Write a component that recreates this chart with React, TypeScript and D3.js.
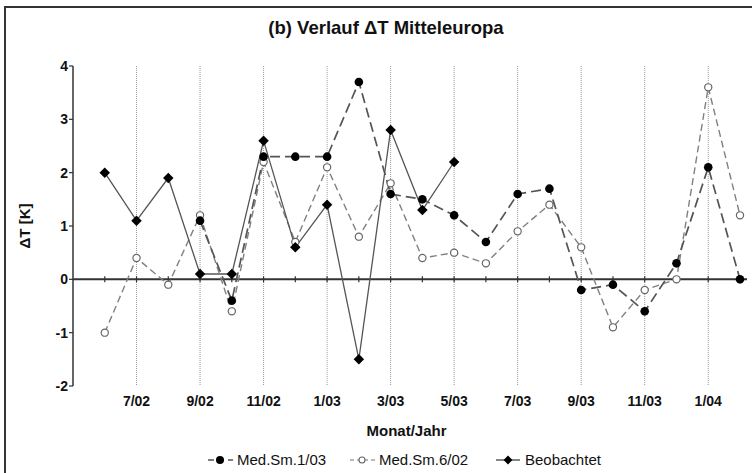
import React from 'react';
import * as d3 from 'd3';

// Monate Juni 2002 bis Februar 2004
const months = ['6/02', '7/02', '8/02', '9/02', '10/02', '11/02', '12/02', '1/03', '2/03', '3/03', '4/03',
    '5/03', '6/03', '7/03', '8/03', '9/03', '10/03', '11/03', '12/03', '1/04', '2/04'];
const labeledMonths = ['7/02', '9/02', '11/02', '1/03', '3/03', '5/03', '7/03', '9/03', '11/03', '1/04'];
const yTicks = [-2, -1, 0, 1, 2, 3, 4];

const medSm103 = [null, null, null, 1.1, -0.4, 2.3, 2.3, 2.3, 3.7, 1.6, 1.5, 1.2, 0.7, 1.6, 1.7, -0.2, -0.1, -0.6, 0.3, 2.1, 0.0];
const medSm602 = [-1.0, 0.4, -0.1, 1.2, -0.6, 2.2, 0.7, 2.1, 0.8, 1.8, 0.4, 0.5, 0.3, 0.9, 1.4, 0.6, -0.9, -0.2, 0.0, 3.6, 1.2];
const beobachtet = [2.0, 1.1, 1.9, 0.1, 0.1, 2.6, 0.6, 1.4, -1.5, 2.8, 1.3, 2.2, null, null, null, null, null, null, null, null, null];

const W = 752;
const H = 473;
const left = 73;
const right = 740;
const top = 66;
const bottom = 386;

const font = '"Liberation Sans", Arial, Helvetica, sans-serif';

type Pt = { i: number; v: number | null };

const App = () => {
    // index 0 = 5/02 (Achsenursprung), Monat i liegt bei i + 1
    const x = d3.scaleLinear().domain([0, months.length]).range([left, right]);
    const y = d3.scaleLinear().domain([-2, 4]).range([bottom, top]);
    const xm = (m: string) => x(months.indexOf(m) + 1);

    const line = d3.line<Pt>()
        .defined((d) => d.v !== null)
        .x((d) => x(d.i + 1))
        .y((d) => y(d.v as number));

    const pts = (arr: (number | null)[]) => arr.map((v, i) => ({ i, v }));

    const diamond = d3.symbol().type(d3.symbolDiamond2).size(70)();

    return (
        <svg width={W} height={H} style={{ position: 'absolute', left: 0, top: 0, background: '#fff' }} fontFamily={font}>
            <rect x={5} y={7} width={W + 20} height={H + 20} fill="#fff" stroke="#333" strokeWidth={2} />

            <text x={386} y={34} textAnchor="middle" fontSize={18.5} fontWeight="bold" fill="#111">(b) Verlauf ΔT Mitteleuropa</text>

            {/* vertikale Gitterlinien */}
            {labeledMonths.map((m) => (
                <line key={m} x1={xm(m)} x2={xm(m)} y1={top} y2={bottom} stroke="#999" strokeWidth={1} strokeDasharray="1,1" />
            ))}

            {/* y-Achse */}
            <line x1={left} x2={left} y1={top} y2={bottom} stroke="#333" strokeWidth={1.5} />
            {yTicks.map((t) => (
                <g key={t}>
                    <line x1={left - 4} x2={left} y1={y(t)} y2={y(t)} stroke="#333" strokeWidth={1.2} />
                    <text x={left - 5} y={y(t) + 5} textAnchor="end" fontSize={14} fontWeight="bold" fill="#111">{t}</text>
                </g>
            ))}
            <text transform={`translate(30,${y(1)}) rotate(-90)`} textAnchor="middle" fontSize={15} fontWeight="bold" fill="#111">ΔT [K]</text>

            {/* Nulllinie mit Monatsstrichen */}
            <line x1={left} x2={747} y1={y(0)} y2={y(0)} stroke="#333" strokeWidth={2} />
            {months.map((m) => (
                <line key={m} x1={xm(m)} x2={xm(m)} y1={y(0) - 3} y2={y(0) + 3} stroke="#333" strokeWidth={1.2} />
            ))}

            {labeledMonths.map((m) => (
                <text key={m} x={xm(m)} y={bottom + 20} textAnchor="middle" fontSize={14} fontWeight="bold" fill="#111">{m}</text>
            ))}
            <text x={(left + right) / 2} y={436} textAnchor="middle" fontSize={15} fontWeight="bold" fill="#111">Monat/Jahr</text>

            {/* Reihen */}
            <path d={line(pts(medSm602)) || ''} fill="none" stroke="#808080" strokeWidth={1.4} strokeDasharray="7,4" />
            <path d={line(pts(medSm103)) || ''} fill="none" stroke="#555" strokeWidth={1.7} strokeDasharray="10,5" />
            <path d={line(pts(beobachtet)) || ''} fill="none" stroke="#555" strokeWidth={1.3} />

            {pts(medSm602).filter((d) => d.v !== null).map((d) => (
                <circle key={'o' + d.i} cx={x(d.i + 1)} cy={y(d.v as number)} r={3.6} fill="#fff" stroke="#666" strokeWidth={1.2} />
            ))}
            {pts(medSm103).filter((d) => d.v !== null).map((d) => (
                <circle key={'f' + d.i} cx={x(d.i + 1)} cy={y(d.v as number)} r={4.3} fill="#000" />
            ))}
            {pts(beobachtet).filter((d) => d.v !== null).map((d) => (
                <path key={'d' + d.i} d={diamond || ''} transform={`translate(${x(d.i + 1)},${y(d.v as number)})`} fill="#000" />
            ))}

            {/* Legende */}
            <g fontSize={15} fill="#111">
                <line x1={208} x2={233} y1={460} y2={460} stroke="#555" strokeWidth={1.5} strokeDasharray="6,4" />
                <circle cx={220} cy={460} r={4} fill="#000" />
                <text x={237} y={465}>Med.Sm.1/03</text>

                <line x1={350} x2={375} y1={460} y2={460} stroke="#777" strokeWidth={1.2} strokeDasharray="4,3" />
                <circle cx={362} cy={460} r={3} fill="#fff" stroke="#666" strokeWidth={1.1} />
                <text x={379} y={465}>Med.Sm.6/02</text>

                <line x1={496} x2={520} y1={460} y2={460} stroke="#444" strokeWidth={1.3} />
                <path d={d3.symbol().type(d3.symbolDiamond2).size(50)() || ''} transform="translate(508,460)" fill="#000" />
                <text x={525} y={465}>Beobachtet</text>
            </g>
        </svg>
    );
};

export default App;
